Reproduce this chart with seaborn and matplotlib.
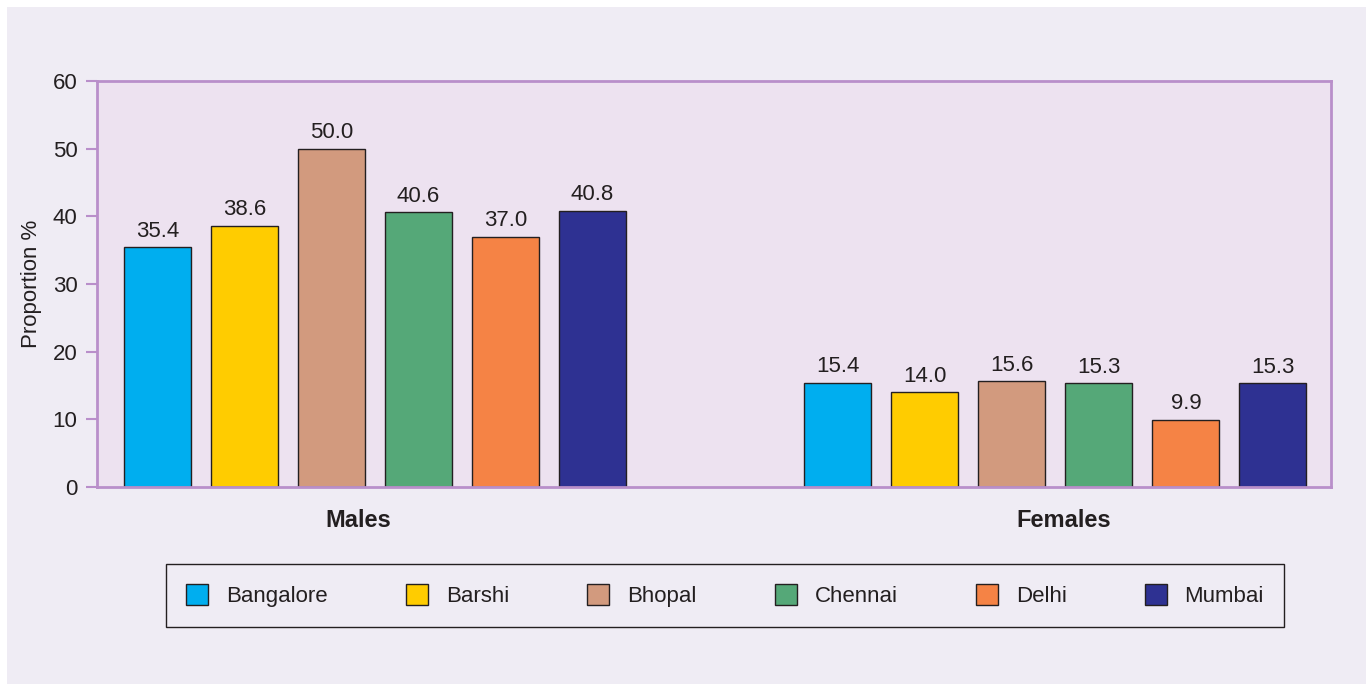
import pandas as pd
import matplotlib.pyplot as plt
import seaborn as sb
from matplotlib.patches import Rectangle

# Data
groups = ["Males", "Females"]
cities = ["Bangalore", "Barshi", "Bhopal", "Chennai", "Delhi", "Mumbai"]
males = [35.4, 38.6, 50.0, 40.6, 37.0, 40.8]
females = [15.4, 14.0, 15.6, 15.3, 9.9, 15.3]
colors = ["#00aeef", "#ffcc00", "#d29a7e", "#55a878", "#f58345", "#2e3192"]

df = pd.DataFrame({
    "group": ["Males"] * len(cities) + ["Females"] * len(cities),
    "city": cities * 2,
    "value": males + females,
})

sb.set_style("white")
plt.rcParams["font.family"] = ["Liberation Sans", "DejaVu Sans"]

spine_col = "#b98fca"
text_col = "#231f20"

fig = plt.figure(figsize=(13.7, 6.91), dpi=100)
fig.patch.set_facecolor("white")
fig.add_artist(Rectangle((7 / 1370, 7 / 691), 1359 / 1370, 677 / 691,
                         transform=fig.transFigure, facecolor="#efecf4",
                         edgecolor="none", zorder=0))

ax = fig.add_axes([97 / 1370, 1 - 487 / 691, 1234 / 1370, 406 / 691])
ax.set_facecolor("#ede2f0")

sb.barplot(data=df, x="group", y="value", hue="city", hue_order=cities,
           order=groups, palette=colors, saturation=1, width=0.767, gap=0.23,
           edgecolor=text_col, linewidth=1, ax=ax)

for c in ax.containers:
    ax.bar_label(c, fmt="%.1f", padding=4, fontsize=16, color=text_col)

ax.set_ylim(0, 60)
ax.set_xlim(-0.4085, 1.405)
ax.set_yticks(range(0, 61, 10))
# group labels sit slightly off the group centres in the original
ax.set_xticks([-0.025, 1.0125], groups)
ax.set_xlabel("")
ax.set_ylabel("Proportion %", fontsize=16, color=text_col, labelpad=8)

for s in ax.spines.values():
    s.set_color(spine_col)
    s.set_linewidth(2)
    s.set_visible(True)

ax.tick_params(axis="y", left=True, color=spine_col, length=8, width=1.5,
               labelsize=16, labelcolor=text_col, pad=6)
ax.tick_params(axis="x", length=0, labelsize=17, labelcolor=text_col, pad=16)
for lbl in ax.get_xticklabels():
    lbl.set_fontweight("bold")

handles, labels = ax.get_legend_handles_labels()
ax.get_legend().remove()
leg = fig.legend(handles, labels, ncol=6, mode="expand",
                 bbox_to_anchor=(166 / 1370, 1 - 628 / 691, 1118 / 1370, 65 / 691),
                 loc="center", fontsize=16, frameon=True, fancybox=False,
                 edgecolor=text_col, facecolor="#efecf4", borderpad=0.9,
                 borderaxespad=0, handlelength=1.0, handleheight=1.1,
                 handletextpad=0.8, columnspacing=2.5)
leg.get_frame().set_linewidth(1)
leg.get_frame().set_alpha(1)
for t in leg.get_texts():
    t.set_color(text_col)

plt.savefig("out.png", dpi=100)
